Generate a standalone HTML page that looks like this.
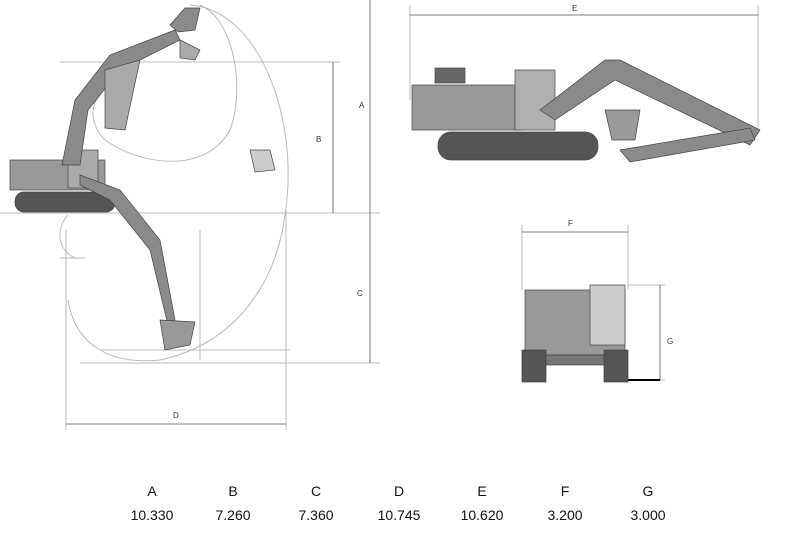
<!DOCTYPE html>
<html><head><meta charset="utf-8"><style>
body{margin:0;background:#fff;width:800px;height:533px;overflow:hidden;font-family:"Liberation Sans",sans-serif}
.t{position:absolute;font-size:14px;color:#111;transform:translateX(-50%)}
</style></head><body>
<svg width="800" height="533" style="position:absolute;left:0;top:0" font-family="Liberation Sans" font-size="8" fill="#333">
<!-- envelope curves -->
<g fill="none" stroke="#bbb" stroke-width="1">
<path d="M190 5 C260 10 300 120 285 215 C275 290 230 345 160 360 C110 365 75 345 68 300"/>
<path d="M200 5 C235 20 245 90 230 130 C205 175 140 165 105 140 C90 125 90 105 100 95"/>
<path d="M68 215 C55 230 58 250 75 258"/>
<line x1="60" y1="62" x2="340" y2="62"/>
<line x1="0" y1="213" x2="380" y2="213"/>
<line x1="80" y1="363" x2="380" y2="363"/>
<line x1="100" y1="350" x2="290" y2="350"/>
<line x1="66" y1="230" x2="66" y2="430"/>
<line x1="286" y1="210" x2="286" y2="430"/>
<line x1="200" y1="230" x2="200" y2="360"/>
<line x1="60" y1="258" x2="85" y2="258"/>
<line x1="410" y1="5" x2="410" y2="100"/>
<line x1="758" y1="5" x2="758" y2="130"/>
<line x1="522" y1="225" x2="522" y2="290"/>
<line x1="628" y1="225" x2="628" y2="290"/>
<line x1="628" y1="285" x2="665" y2="285"/>
<line x1="628" y1="380" x2="665" y2="380"/>
</g>
<g stroke="#555" stroke-width="0.8" fill="none">
<line x1="370" y1="0" x2="370" y2="363"/>
<line x1="333" y1="62" x2="333" y2="213"/>
<line x1="66" y1="424" x2="286" y2="424"/>
<line x1="410" y1="15" x2="758" y2="15"/>
<line x1="522" y1="232" x2="628" y2="232"/>
<line x1="660" y1="285" x2="660" y2="380"/>
</g>
<text x="359" y="108">A</text><text x="316" y="142">B</text><text x="357" y="296">C</text>
<text x="173" y="418">D</text><text x="572" y="11">E</text><text x="568" y="226">F</text><text x="667" y="344">G</text>
<!-- left machine -->
<g fill="#8a8a8a" stroke="#444" stroke-width="0.7">
<rect x="15" y="192" width="100" height="20" rx="9" fill="#555"/>
<rect x="10" y="160" width="95" height="30" fill="#999"/>
<rect x="68" y="150" width="30" height="38" fill="#aaa"/>
<polygon points="62,165 75,100 110,55 175,30 180,40 120,70 88,110 80,165"/>
<polygon points="170,25 185,8 200,8 195,30 178,32"/>
<polygon points="105,70 140,60 125,130 105,128" fill="#aaa"/>
<polygon points="80,175 120,190 160,240 175,320 168,325 150,250 110,200 80,185"/>
<polygon points="160,320 195,322 190,345 165,350" fill="#999"/>
<polygon points="180,40 200,50 195,60 180,58" fill="#aaa"/>
<polygon points="250,150 270,150 275,170 255,172" fill="#ccc"/>
</g>
<!-- right side view -->
<g fill="#8a8a8a" stroke="#444" stroke-width="0.7">
<rect x="438" y="132" width="160" height="28" rx="13" fill="#555"/>
<rect x="412" y="85" width="110" height="45" fill="#999"/>
<rect x="515" y="70" width="40" height="60" fill="#b0b0b0"/>
<rect x="435" y="68" width="30" height="15" fill="#666"/>
<polygon points="540,110 605,60 620,60 760,130 750,145 615,80 555,120"/>
<polygon points="620,150 750,128 755,140 630,162"/>
<polygon points="605,110 640,110 635,140 612,140" fill="#999"/>
</g>
<!-- front view -->
<g fill="#8a8a8a" stroke="#444" stroke-width="0.7">
<rect x="525" y="290" width="100" height="65" fill="#999"/>
<rect x="590" y="285" width="35" height="60" fill="#ccc"/>
<rect x="522" y="350" width="24" height="32" fill="#555"/>
<rect x="604" y="350" width="24" height="32" fill="#555"/>
<rect x="546" y="355" width="58" height="10" fill="#777"/>
<line x1="628" y1="380" x2="660" y2="380" stroke="#000" stroke-width="2"/>
</g>
</svg>
<div class="t" style="left:152px;top:483px">A</div><div class="t" style="left:233px;top:483px">B</div><div class="t" style="left:316px;top:483px">C</div><div class="t" style="left:399px;top:483px">D</div><div class="t" style="left:482px;top:483px">E</div><div class="t" style="left:565px;top:483px">F</div><div class="t" style="left:648px;top:483px">G</div>
<div class="t" style="left:152px;top:507px">10.330</div><div class="t" style="left:233px;top:507px">7.260</div><div class="t" style="left:316px;top:507px">7.360</div><div class="t" style="left:399px;top:507px">10.745</div><div class="t" style="left:482px;top:507px">10.620</div><div class="t" style="left:565px;top:507px">3.200</div><div class="t" style="left:648px;top:507px">3.000</div>
</body></html>
